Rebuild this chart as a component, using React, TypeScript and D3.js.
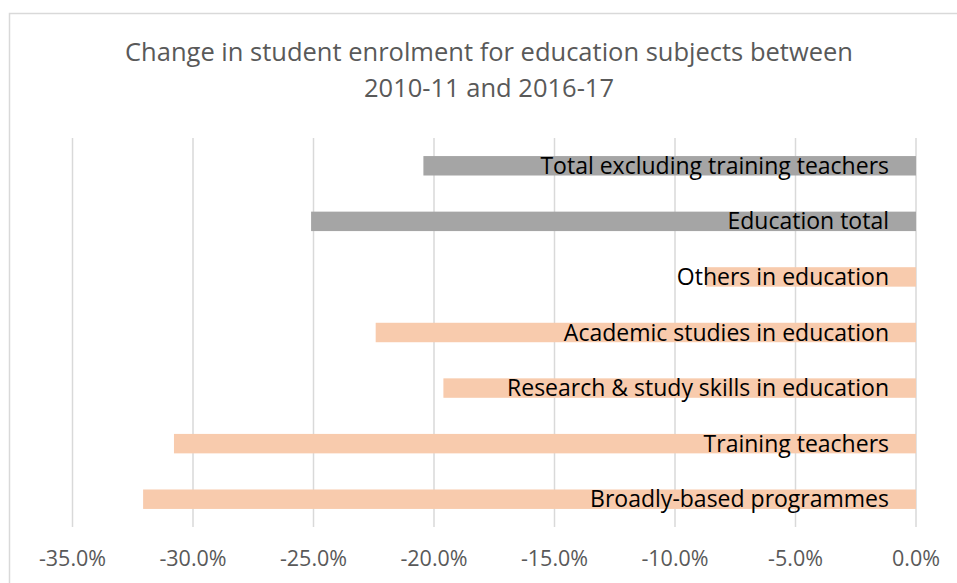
import React from "react";
import * as d3 from "d3";

const categories = [
  "Total excluding training teachers",
  "Education total",
  "Others in education",
  "Academic studies in education",
  "Research & study skills in education",
  "Training teachers",
  "Broadly-based programmes",
];
const values = [-20.44, -25.1, -8.71, -22.42, -19.61, -30.79, -32.07];
const groups = ["total", "total", "sub", "sub", "sub", "sub", "sub"];
const ticks = [-35, -30, -25, -20, -15, -10, -5, 0];
const titleLines = [
  "Change in student enrolment for education subjects between",
  "2010-11 and 2016-17",
];

const W = 957;
const H = 583;
const FONT = "'Open Sans', sans-serif";
const colors: Record<string, string> = { total: "#a5a5a5", sub: "#f8cbad" };

export default function App() {
  const x = d3.scaleLinear().domain([-35, 0]).range([72.5, 916]);
  const y = d3
    .scaleBand<string>()
    .domain(categories)
    .range([138, 527])
    .paddingInner(0.65)
    .paddingOuter(0.325);
  const fmt = (v: number) => v.toFixed(1) + "%";

  return (
    <svg
      width={W}
      height={H}
      style={{ position: "absolute", left: 0, top: 0, background: "#fff" }}
      fontFamily={FONT}
    >
      <rect x={0} y={0} width={W} height={H} fill="#fff" />
      <rect x={9.5} y={13.5} width={W + 20} height={H + 20} fill="none" stroke="#d9d9d9" strokeWidth={1.5} />
      {titleLines.map((t, i) => (
        <text
          key={t}
          x={489}
          y={61 + i * 36}
          textAnchor="middle"
          fontSize={25.5}
          fill="#595959"
        >
          {t}
        </text>
      ))}
      {ticks.map((t) => (
        <line
          key={"g" + t}
          x1={x(t)}
          x2={x(t)}
          y1={138}
          y2={527}
          stroke="#d9d9d9"
          strokeWidth={1.5}
        />
      ))}
      {categories.map((c, i) => {
        const v = values[i];
        return (
          <rect
            key={"b" + c}
            x={x(v)}
            y={y(c)}
            width={x(0) - x(v)}
            height={y.bandwidth()}
            fill={colors[groups[i]]}
          />
        );
      })}
      {categories.map((c) => (
        <text
          key={"l" + c}
          x={889}
          y={(y(c) as number) + y.bandwidth() / 2 + 8}
          textAnchor="end"
          fontSize={23}
          fill="#000"
        >
          {c}
        </text>
      ))}
      {ticks.map((t) => (
        <text
          key={"t" + t}
          x={x(t)}
          y={565.5}
          textAnchor="middle"
          fontSize={21.5}
          fill="#595959"
        >
          {fmt(t)}
        </text>
      ))}
    </svg>
  );
}
